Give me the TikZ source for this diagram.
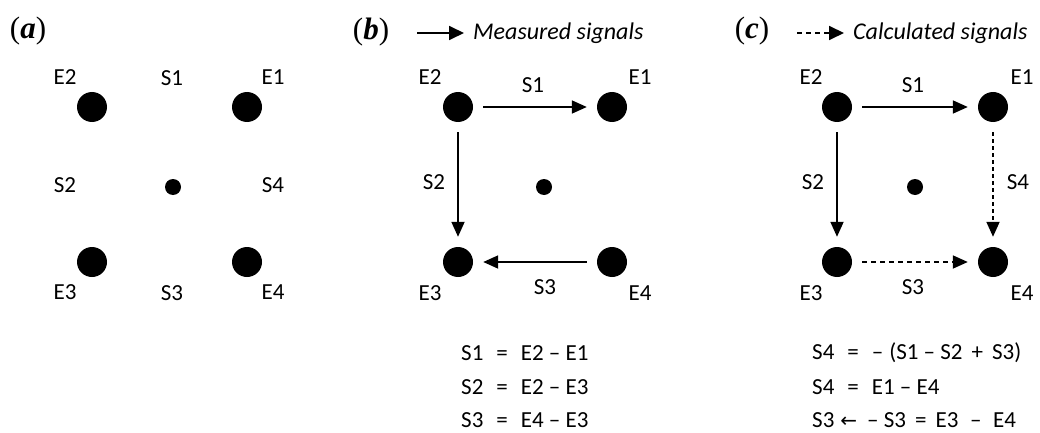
\documentclass[tikz,border=0pt]{standalone}
\usepackage{fontspec}
\setmainfont{Carlito}
\newfontfamily\labfont{Liberation Serif}
\newfontfamily\symfont{DejaVu Sans}
\usetikzlibrary{arrows.meta}
\begin{document}
\begin{tikzpicture}[x=1pt,y=-1pt,
  font=\fontsize{23}{27}\selectfont,
  bigdot/.style={circle,fill=black,inner sep=0pt,minimum size=30pt},
  smalldot/.style={circle,fill=black,inner sep=0pt,minimum size=16pt},
  lbl/.style={inner sep=0pt},
  panel/.style={inner sep=0pt,font=\labfont\fontsize{31}{35}\selectfont},
  sig/.style={line width=1.8pt,-{Triangle[length=15pt,width=13pt]},shorten <=10pt,shorten >=10pt},
  calc/.style={sig,dash pattern=on 4pt off 3pt},
  legsig/.style={line width=1.8pt,-{Triangle[length=15pt,width=14pt]},shorten >=9pt},
  legtext/.style={inner sep=0pt,anchor=west,font=\fontsize{24}{28}\selectfont\itshape},
  eq/.style={anchor=west,inner sep=0pt}]
\path[use as bounding box] (0,0) rectangle (1040,433);

% ---------- panel (a)
\node[panel] (pa) at (28,31) {(\textbf{\textit{a}})};
\node[bigdot] (a2) at (92,107) {};
\node[bigdot] (a1) at (247,107) {};
\node[bigdot] (a3) at (92,262) {};
\node[bigdot] (a4) at (247,262) {};
\node[smalldot] (ac) at (173,187) {};
\node[lbl] (aE2) at (65,77) {E2};
\node[lbl] (aS1) at (172,78) {S1};
\node[lbl] (aE1) at (273,77) {E1};
\node[lbl] (aS2) at (65,185) {S2};
\node[lbl] (aS4) at (273,185) {S4};
\node[lbl] (aE3) at (65,292) {E3};
\node[lbl] (aS3) at (172,293) {S3};
\node[lbl] (aE4) at (273,292) {E4};

% ---------- panel (b)
\node[panel] (pb) at (371,32) {(\textbf{\textit{b}})};
\coordinate (bl0) at (417,33);
\node[legtext] (bleg) at (473,33) {Measured signals};
\draw[legsig] (bl0) -- (bleg.west);
\node[bigdot] (b2) at (458,107) {};
\node[bigdot] (b1) at (612,107) {};
\node[bigdot] (b3) at (458,262) {};
\node[bigdot] (b4) at (612,262) {};
\node[smalldot] (bc) at (544,187) {};
\node[lbl] (bE2) at (430,77) {E2};
\node[lbl] (bE1) at (640,77) {E1};
\node[lbl] (bE3) at (430,293) {E3};
\node[lbl] (bE4) at (640,293) {E4};
\node[lbl] (bS1) at (533,85) {S1};
\node[lbl] (bS2) at (434,182) {S2};
\node[lbl] (bS3) at (545,287) {S3};
\draw[sig] (b2) -- (b1);
\draw[sig] (b2) -- (b3);
\draw[sig] (b4) -- (b3);

% ---------- panel (c)
\node[panel] (pc) at (752,31) {(\textbf{\textit{c}})};
\coordinate (cl0) at (797,33);
\node[legtext] (cleg) at (853,33) {Calculated signals};
\draw[legsig,dash pattern=on 5pt off 4pt] (cl0) -- (cleg.west);
\node[bigdot] (c2) at (837,107) {};
\node[bigdot] (c1) at (993,107) {};
\node[bigdot] (c3) at (837,262) {};
\node[bigdot] (c4) at (993,262) {};
\node[smalldot] (cc) at (915,187) {};
\node[lbl] (cE2) at (811,77) {E2};
\node[lbl] (cE1) at (1022,77) {E1};
\node[lbl] (cE3) at (811,293) {E3};
\node[lbl] (cE4) at (1022,293) {E4};
\node[lbl] (cS1) at (913,85) {S1};
\node[lbl] (cS2) at (813,182) {S2};
\node[lbl] (cS4) at (1018,182) {S4};
\node[lbl] (cS3) at (913,287) {S3};
\draw[sig] (c2) -- (c1);
\draw[sig] (c2) -- (c3);
\draw[calc] (c1) -- (c4);
\draw[calc,dash pattern=on 5pt off 4pt] (c3) -- (c4);

% ---------- equations
\node[eq] (e1) at (461,353) {S1\hspace{13pt}=\hspace{13pt}E2 – E1};
\node[eq] (e2) at (461,387) {S2\hspace{13pt}=\hspace{13pt}E2 – E3};
\node[eq] (e3) at (461,420) {S3\hspace{13pt}=\hspace{13pt}E4 – E3};
\node[eq] (f1) at (812,353) {S4\hspace{13pt}=\hspace{13pt}–\hspace{6pt}(S1 – S2 \,+\, S3)};
\node[eq] (f2) at (812,387) {S4\hspace{13pt}=\hspace{13pt}E1 – E4};
\node[eq] (f3) at (812,420) {S3\hspace{6pt}{\symfont\fontsize{20}{24}\selectfont ←}\hspace{10pt}– S3 \,=\, E3 \;–\; E4};
\end{tikzpicture}
\end{document}
